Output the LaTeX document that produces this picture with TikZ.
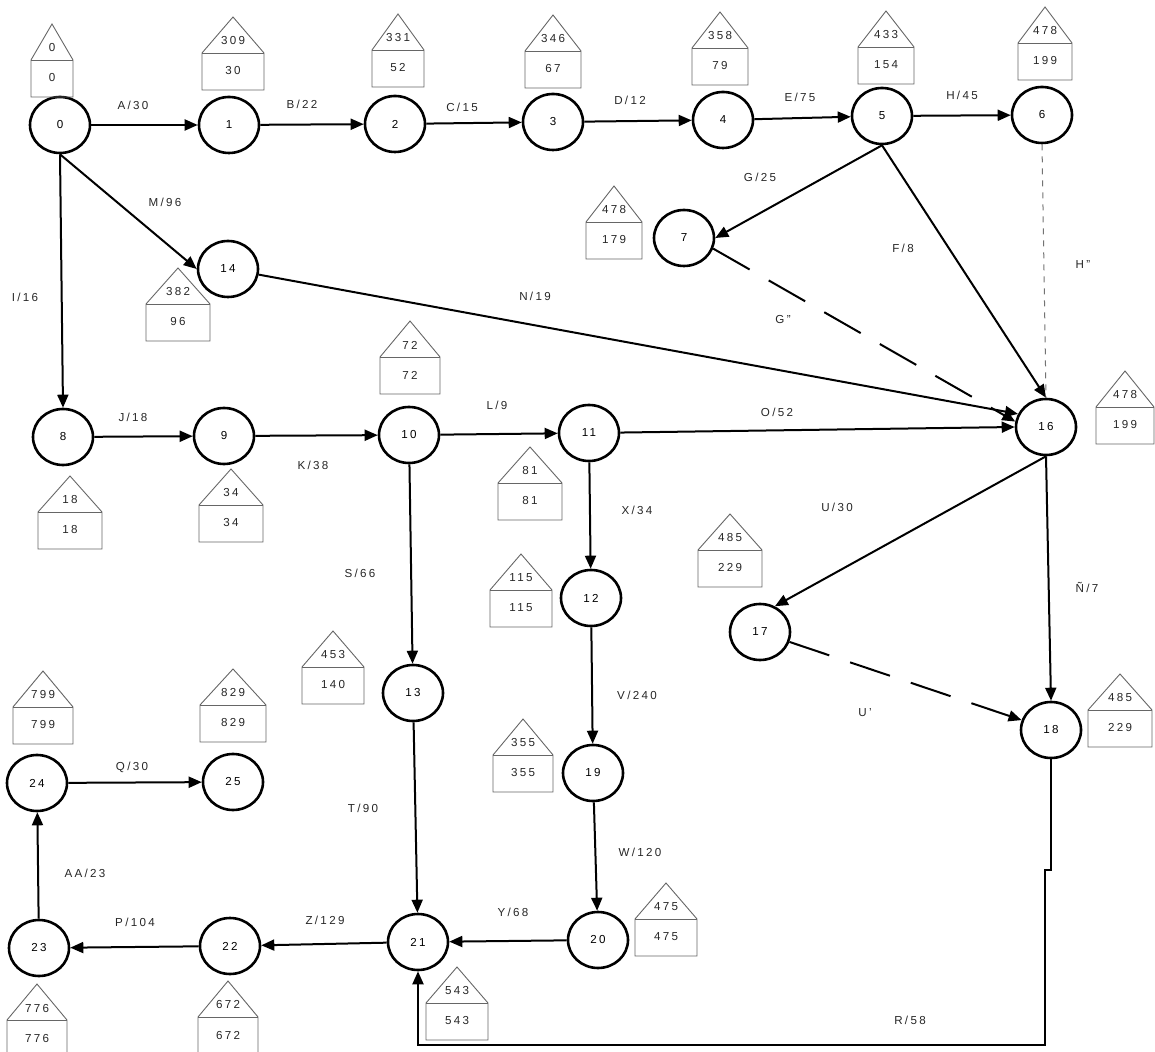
\documentclass[tikz,border=0pt]{standalone}
\usepackage{fontspec}
\setmainfont{Liberation Sans}[LetterSpace=20]
\usetikzlibrary{arrows.meta,shapes.geometric}
\newcommand\lblfont{\fontsize{5.8}{7}\selectfont}
\tikzset{
  ev/.style={draw, ellipse, line width=1.3pt, minimum width=30pt, minimum height=28pt, inner sep=0pt, font=\lblfont},
  act/.style={line width=1pt, -{Triangle[length=6.5pt,width=5.5pt]}},
  dum/.style={act, dash pattern=on 21pt off 11pt},
  dotl/.style={line width=0.5pt, draw=black!55, dash pattern=on 3pt off 3pt},
  lab/.style={font=\lblfont, inner sep=0pt, text=black!85},
  hs/.style={line width=0.45pt, draw=black!60},
}
% name, cx, eave y, top value, bottom value, half width
\newcommand\mkhouse[6]{%
  \draw[hs] (#2-#6,#3+37) -- (#2-#6,#3) -- (#2,#3-36) -- (#2+#6,#3) -- (#2+#6,#3+37) -- cycle;
  \draw[hs] (#2-#6,#3) -- (#2+#6,#3);
  \node[lab] (#1t) at (#2,#3-12) {#4};
  \node[lab] (#1b) at (#2,#3+18) {#5};
}
\begin{document}
\begin{tikzpicture}[x=0.5pt,y=-0.5pt]
\useasboundingbox (0,0) rectangle (1155,1052);
% events
\node[ev] (n0) at (60,125) {0};
\node[ev] (n1) at (229,125) {1};
\node[ev] (n2) at (395,124) {2};
\node[ev] (n3) at (553,122) {3};
\node[ev] (n4) at (723,120) {4};
\node[ev] (n5) at (882,116) {5};
\node[ev] (n6) at (1042,115) {6};
\node[ev] (n7) at (684,238) {7};
\node[ev] (n14) at (228,269) {14};
\node[ev] (n8) at (63,437) {8};
\node[ev] (n9) at (224,436) {9};
\node[ev] (n10) at (409,435) {10};
\node[ev] (n11) at (589,433) {11};
\node[ev] (n16) at (1046,427) {16};
\node[ev] (n12) at (591,598) {12};
\node[ev] (n13) at (413,693) {13};
\node[ev] (n17) at (760,632) {17};
\node[ev] (n18) at (1051,730) {18};
\node[ev] (n19) at (593,773) {19};
\node[ev] (n20) at (598,940) {20};
\node[ev] (n21) at (418,942) {21};
\node[ev] (n22) at (230,946) {22};
\node[ev] (n23) at (39,948) {23};
\node[ev] (n24) at (37,783) {24};
\node[ev] (n25) at (233,782) {25};
% houses
\mkhouse{h0}{52}{60}{0}{0}{21}
\mkhouse{h1}{233}{53}{309}{30}{31}
\mkhouse{h2}{398}{50}{331}{52}{26}
\mkhouse{h3}{553}{51}{346}{67}{28}
\mkhouse{h4}{720}{48}{358}{79}{28}
\mkhouse{h5}{886}{47}{433}{154}{28}
\mkhouse{h6}{1045}{43}{478}{199}{27}
\mkhouse{h7}{614}{222}{478}{179}{28}
\mkhouse{h14}{178}{304}{382}{96}{32}
\mkhouse{h8}{70}{512}{18}{18}{32}
\mkhouse{h9}{231}{505}{34}{34}{32}
\mkhouse{h10}{410}{357}{72}{72}{30}
\mkhouse{h11}{530}{483}{81}{81}{32}
\mkhouse{h12}{521}{590}{115}{115}{31}
\mkhouse{h13}{333}{667}{453}{140}{31}
\mkhouse{h16}{1125}{407}{478}{199}{29}
\mkhouse{h17}{730}{550}{485}{229}{32}
\mkhouse{h18}{1120}{710}{485}{229}{32}
\mkhouse{h19}{523}{755}{355}{355}{30}
\mkhouse{h20}{666}{919}{475}{475}{31}
\mkhouse{h21}{457}{1003}{543}{543}{31}
\mkhouse{h22}{228}{1017}{672}{672}{30}
\mkhouse{h23}{37}{1020}{776}{776}{30}
\mkhouse{h24}{43}{707}{799}{799}{30}
\mkhouse{h25}{233}{705}{829}{829}{33}
% activities
\draw[act] (n0) -- (n1);
\draw[act] (n1) -- (n2);
\draw[act] (n2) -- (n3);
\draw[act] (n3) -- (n4);
\draw[act] (n4) -- (n5);
\draw[act] (n5) -- (n6);
\draw[act] (n5.south) -- (n7.east);
\draw[act] (n5.south) -- (n16.north);
\draw[dotl] (n6.south) -- (n16.north);
\draw[dum] (n7.-20) -- (n16.170);
\draw[act] (n0.south) -- (n14.west);
\draw[act] (n14) -- (n16.155);
\draw[act] (n0.south) -- (n8.north);
\draw[act] (n8) -- (n9);
\draw[act] (n9) -- (n10);
\draw[act] (n10) -- (n11);
\draw[act] (n11) -- (n16.west);
\draw[act] (n11) -- (n12);
\draw[act] (n10) -- (n13);
\draw[act] (n12) -- (n19);
\draw[act] (n19) -- (n20);
\draw[act] (n13) -- (n21);
\draw[act] (n20) -- (n21);
\draw[act] (n21) -- (n22);
\draw[act] (n22) -- (n23);
\draw[act] (n23) -- (n24);
\draw[act] (n24) -- (n25);
\draw[act] (n16.south) -- (n17.60);
\draw[act] (n16.south) -- (n18.north);
\draw[dum] (n17) -- (n18);
\coordinate (r1) at (1053,870);
\coordinate (r2) at (1045,870);
\coordinate (r3) at (1045,1045);
\draw[act] (n18.south) -- (n18.south |- r1) -- (r2) -- (r3) -- (n21.south |- r3) -- (n21.south);
% activity labels
\node[lab] (lA) at (133,105) {A/30};
\node[lab] (lB) at (302,104) {B/22};
\node[lab] (lC) at (462,107) {C/15};
\node[lab] (lD) at (630,100) {D/12};
\node[lab] (lE) at (800,97) {E/75};
\node[lab] (lH) at (962,95) {H/45};
\node[lab] (lG) at (760,177) {G/25};
\node[lab] (lF) at (903,248) {F/8};
\node[lab] (lHH) at (1083,265) {H''};
\node[lab] (lGG) at (783,320) {G''};
\node[lab] (lM) at (165,202) {M/96};
\node[lab] (lN) at (535,296) {N/19};
\node[lab] (lI) at (25,297) {I/16};
\node[lab] (lJ) at (133,417) {J/18};
\node[lab] (lK) at (313,465) {K/38};
\node[lab] (lL) at (497,405) {L/9};
\node[lab] (lO) at (777,412) {O/52};
\node[lab] (lX) at (637,510) {X/34};
\node[lab] (lS) at (360,573) {S/66};
\node[lab] (lU) at (837,507) {U/30};
\node[lab] (lNN) at (1087,587) {Ñ/7};
\node[lab] (lV) at (637,695) {V/240};
\node[lab] (lUU) at (865,713) {U'};
\node[lab] (lW) at (640,852) {W/120};
\node[lab] (lT) at (363,808) {T/90};
\node[lab] (lY) at (513,912) {Y/68};
\node[lab] (lZ) at (325,920) {Z/129};
\node[lab] (lP) at (135,922) {P/104};
\node[lab] (lAA) at (85,873) {AA/23};
\node[lab] (lQ) at (132,767) {Q/30};
\node[lab] (lR) at (910,1020) {R/58};
\end{tikzpicture}
\end{document}
